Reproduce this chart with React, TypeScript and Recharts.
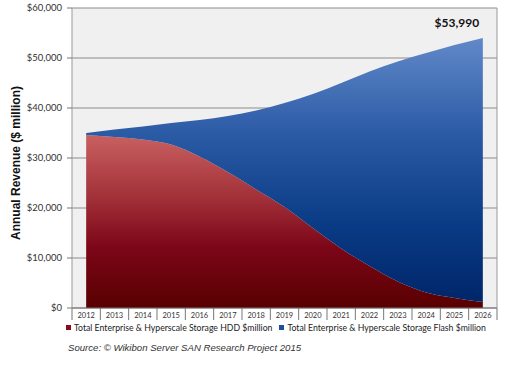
import { AreaChart, Area, XAxis, YAxis, CartesianGrid, LabelList, Label } from 'recharts'

const YEARS = ['2012', '2013', '2014', '2015', '2016', '2017', '2018', '2019', '2020', '2021', '2022', '2023', '2024', '2025', '2026']
// $ million
const HDD = [34600, 34200, 33700, 32700, 30300, 27200, 23700, 20200, 16000, 11900, 8400, 5300, 3100, 2000, 1200]
const FLASH = [400, 1500, 2600, 4300, 7300, 11200, 15800, 20800, 26800, 33100, 38900, 44000, 47900, 50600, 52790]
const TOTAL_LABEL = '$53,990'
const Y_TICKS = [0, 10000, 20000, 30000, 40000, 50000, 60000]

const HDD_NAME = 'Total Enterprise & Hyperscale Storage HDD $million'
const FLASH_NAME = 'Total Enterprise & Hyperscale Storage Flash $million'
const SOURCE = 'Source: © Wikibon Server SAN Research Project 2015'

const data = YEARS.map((year, i) => ({ year, hdd: HDD[i], flash: FLASH[i] }))

const HALF_BAND = 14.17
const LABEL_FONT = 'Lato, "Open Sans", sans-serif'

function YearTick({ x, y, payload, index }: any) {
  return (
    <g>
      <text x={x} y={y + 10} textAnchor="middle" fontSize={7.5} fill="#333" fontFamily={LABEL_FONT}>
        {payload.value}
      </text>
      <line x1={x - HALF_BAND} x2={x - HALF_BAND} y1={y} y2={y + 12} stroke="#777" />
      {index === YEARS.length - 1 && (
        <line x1={x + HALF_BAND} x2={x + HALF_BAND} y1={y} y2={y + 12} stroke="#777" />
      )}
    </g>
  )
}

function TotalLabel({ x, y, index }: any) {
  if (index !== YEARS.length - 1) return null
  return (
    <text x={x - 26} y={y - 11} textAnchor="middle" fontSize={12} fontWeight="bold" fill="#111" fontFamily={LABEL_FONT}>
      {TOTAL_LABEL}
    </text>
  )
}

export default function App() {
  return (
    <div style={{ position: 'absolute', left: 0, top: 0, width: 507, height: 365, background: '#fff' }}>
      <AreaChart width={507} height={322} data={data} margin={{ top: 8, right: 0, bottom: 0, left: 0 }}>
        <defs>
          <linearGradient id="hddFill" x1="0" y1="0" x2="0" y2="1">
            <stop offset="0%" stopColor="#c96060" />
            <stop offset="35%" stopColor="#a3323a" />
            <stop offset="65%" stopColor="#7c0618" />
            <stop offset="100%" stopColor="#580000" />
          </linearGradient>
          <linearGradient id="flashFill" x1="0" y1="0" x2="0" y2="1">
            <stop offset="0%" stopColor="#6189c9" />
            <stop offset="35%" stopColor="#2d5ca7" />
            <stop offset="70%" stopColor="#0a3b85" />
            <stop offset="100%" stopColor="#00266a" />
          </linearGradient>
        </defs>
        <CartesianGrid vertical={false} stroke="#8c8c8c" fill="#f1f0f1" />
        <XAxis
          dataKey="year"
          padding={{ left: HALF_BAND, right: HALF_BAND }}
          tick={<YearTick />}
          tickLine={false}
          tickSize={0}
          tickMargin={0}
          height={14}
          axisLine={{ stroke: '#777' }}
          interval={0}
        />
        <YAxis
          domain={[0, 60000]}
          ticks={Y_TICKS}
          width={72}
          tickSize={5}
          tickMargin={5}
          tickLine={{ stroke: '#777' }}
          axisLine={{ stroke: '#999' }}
          tick={{ fontSize: 9.5, fill: '#333', fontFamily: LABEL_FONT }}
          tickFormatter={(v: number) => '$' + v.toLocaleString('en-US')}
        >
          <Label
            content={({ viewBox }: any) => (
              <text
                x={16}
                y={viewBox.y + viewBox.height / 2 + 5}
                transform={`rotate(-90 16 ${viewBox.y + viewBox.height / 2 + 5})`}
                textAnchor="middle"
                dominantBaseline="central"
                fontSize={12}
                fontWeight="bold"
                fill="#111"
                fontFamily='"Liberation Sans", Arial, sans-serif'
              >
                Annual Revenue ($ million)
              </text>
            )}
          />
        </YAxis>
        <YAxis yAxisId="frame" orientation="right" width={10} tick={false} tickLine={false} axisLine={{ stroke: '#999' }} />
        <Area
          type="monotone"
          dataKey="hdd"
          name={HDD_NAME}
          stackId="rev"
          stroke="none"
          fill="url(#hddFill)"
          fillOpacity={1}
          isAnimationActive={false}
        />
        <Area
          type="monotone"
          dataKey="flash"
          name={FLASH_NAME}
          stackId="rev"
          stroke="none"
          fill="url(#flashFill)"
          fillOpacity={1}
          isAnimationActive={false}
        >
          <LabelList content={<TotalLabel />} />
        </Area>
      </AreaChart>

      {/* legend */}
      <div style={{ position: 'absolute', left: 66, top: 322, display: 'flex', alignItems: 'center', fontFamily: LABEL_FONT, fontSize: 8.7, color: '#222', whiteSpace: 'nowrap' }}>
        <span style={{ width: 5, height: 5, background: '#8b0a1a', marginRight: 3 }} />
        <span>{HDD_NAME}</span>
        <span style={{ width: 5, height: 5, background: '#1f4e9a', marginLeft: 7, marginRight: 3 }} />
        <span>{FLASH_NAME}</span>
      </div>
      <div style={{ position: 'absolute', left: 68, top: 342, fontFamily: '"Liberation Sans", Arial, sans-serif', fontStyle: 'italic', fontSize: 9.6, color: '#333', whiteSpace: 'nowrap' }}>
        {SOURCE}
      </div>
    </div>
  )
}
